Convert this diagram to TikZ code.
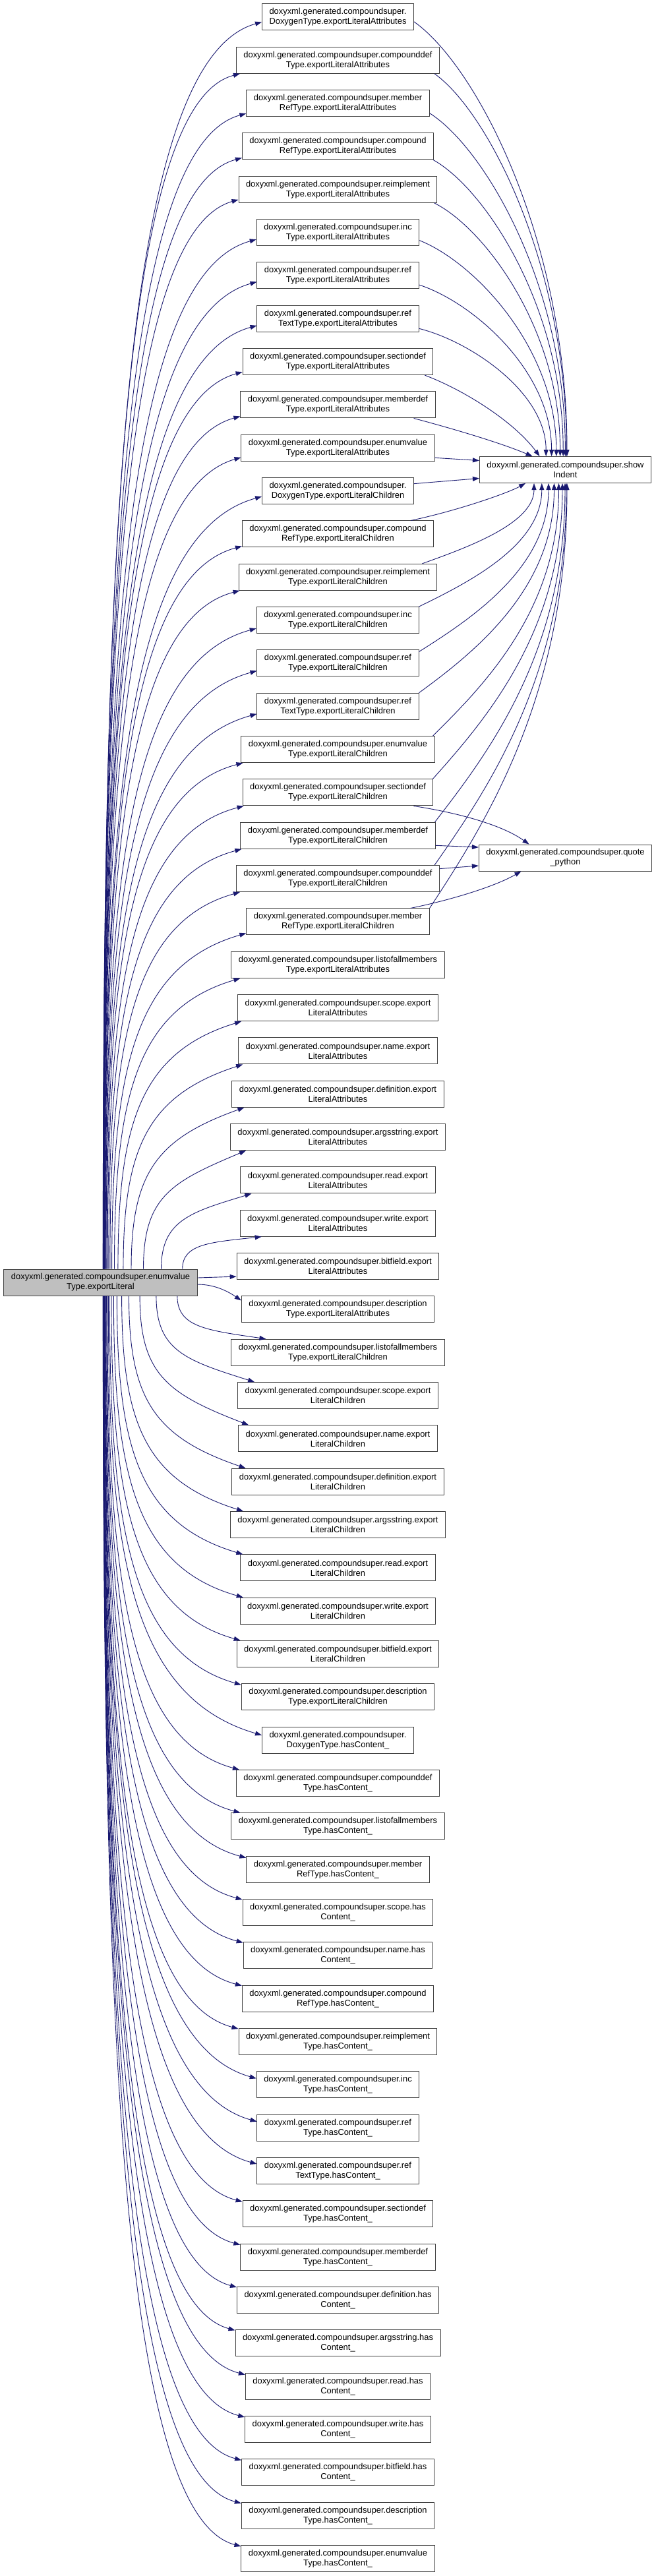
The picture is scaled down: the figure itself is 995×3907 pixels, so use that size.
\documentclass[tikz,border=0pt]{standalone}
\usepackage{fontspec}
\setmainfont{Liberation Sans}
\usetikzlibrary{arrows.meta}
\definecolor{edgeblue}{RGB}{25,25,112}
\definecolor{boxline}{RGB}{64,64,64}
\definecolor{nodegray}{RGB}{191,191,191}
\begin{document}
\begin{tikzpicture}[x=1pt,y=-1pt,
  box/.style={draw=boxline,line width=1pt,fill=white,minimum height=40pt,inner xsep=11pt,inner ysep=0pt,align=center,font=\fontsize{12.9}{15}\selectfont},
  edge/.style={draw=edgeblue,line width=0.9pt,-{Triangle[length=10pt,width=7pt]}}]
\useasboundingbox (0,0) rectangle (995,3907);
\fill[white] (0,0) rectangle (995,3907);
\foreach \t [count=\i] in {
{doxyxml.generated.compoundsuper.\\DoxygenType.exportLiteralAttributes},
{doxyxml.generated.compoundsuper.compounddef\\Type.exportLiteralAttributes},
{doxyxml.generated.compoundsuper.member\\RefType.exportLiteralAttributes},
{doxyxml.generated.compoundsuper.compound\\RefType.exportLiteralAttributes},
{doxyxml.generated.compoundsuper.reimplement\\Type.exportLiteralAttributes},
{doxyxml.generated.compoundsuper.inc\\Type.exportLiteralAttributes},
{doxyxml.generated.compoundsuper.ref\\Type.exportLiteralAttributes},
{doxyxml.generated.compoundsuper.ref\\TextType.exportLiteralAttributes},
{doxyxml.generated.compoundsuper.sectiondef\\Type.exportLiteralAttributes},
{doxyxml.generated.compoundsuper.memberdef\\Type.exportLiteralAttributes},
{doxyxml.generated.compoundsuper.enumvalue\\Type.exportLiteralAttributes},
{doxyxml.generated.compoundsuper.\\DoxygenType.exportLiteralChildren},
{doxyxml.generated.compoundsuper.compound\\RefType.exportLiteralChildren},
{doxyxml.generated.compoundsuper.reimplement\\Type.exportLiteralChildren},
{doxyxml.generated.compoundsuper.inc\\Type.exportLiteralChildren},
{doxyxml.generated.compoundsuper.ref\\Type.exportLiteralChildren},
{doxyxml.generated.compoundsuper.ref\\TextType.exportLiteralChildren},
{doxyxml.generated.compoundsuper.enumvalue\\Type.exportLiteralChildren},
{doxyxml.generated.compoundsuper.sectiondef\\Type.exportLiteralChildren},
{doxyxml.generated.compoundsuper.memberdef\\Type.exportLiteralChildren},
{doxyxml.generated.compoundsuper.compounddef\\Type.exportLiteralChildren},
{doxyxml.generated.compoundsuper.member\\RefType.exportLiteralChildren},
{doxyxml.generated.compoundsuper.listofallmembers\\Type.exportLiteralAttributes},
{doxyxml.generated.compoundsuper.scope.export\\LiteralAttributes},
{doxyxml.generated.compoundsuper.name.export\\LiteralAttributes},
{doxyxml.generated.compoundsuper.definition.export\\LiteralAttributes},
{doxyxml.generated.compoundsuper.argsstring.export\\LiteralAttributes},
{doxyxml.generated.compoundsuper.read.export\\LiteralAttributes},
{doxyxml.generated.compoundsuper.write.export\\LiteralAttributes},
{doxyxml.generated.compoundsuper.bitfield.export\\LiteralAttributes},
{doxyxml.generated.compoundsuper.description\\Type.exportLiteralAttributes},
{doxyxml.generated.compoundsuper.listofallmembers\\Type.exportLiteralChildren},
{doxyxml.generated.compoundsuper.scope.export\\LiteralChildren},
{doxyxml.generated.compoundsuper.name.export\\LiteralChildren},
{doxyxml.generated.compoundsuper.definition.export\\LiteralChildren},
{doxyxml.generated.compoundsuper.argsstring.export\\LiteralChildren},
{doxyxml.generated.compoundsuper.read.export\\LiteralChildren},
{doxyxml.generated.compoundsuper.write.export\\LiteralChildren},
{doxyxml.generated.compoundsuper.bitfield.export\\LiteralChildren},
{doxyxml.generated.compoundsuper.description\\Type.exportLiteralChildren},
{doxyxml.generated.compoundsuper.\\DoxygenType.hasContent\_},
{doxyxml.generated.compoundsuper.compounddef\\Type.hasContent\_},
{doxyxml.generated.compoundsuper.listofallmembers\\Type.hasContent\_},
{doxyxml.generated.compoundsuper.member\\RefType.hasContent\_},
{doxyxml.generated.compoundsuper.scope.has\\Content\_},
{doxyxml.generated.compoundsuper.name.has\\Content\_},
{doxyxml.generated.compoundsuper.compound\\RefType.hasContent\_},
{doxyxml.generated.compoundsuper.reimplement\\Type.hasContent\_},
{doxyxml.generated.compoundsuper.inc\\Type.hasContent\_},
{doxyxml.generated.compoundsuper.ref\\Type.hasContent\_},
{doxyxml.generated.compoundsuper.ref\\TextType.hasContent\_},
{doxyxml.generated.compoundsuper.sectiondef\\Type.hasContent\_},
{doxyxml.generated.compoundsuper.memberdef\\Type.hasContent\_},
{doxyxml.generated.compoundsuper.definition.has\\Content\_},
{doxyxml.generated.compoundsuper.argsstring.has\\Content\_},
{doxyxml.generated.compoundsuper.read.has\\Content\_},
{doxyxml.generated.compoundsuper.write.has\\Content\_},
{doxyxml.generated.compoundsuper.bitfield.has\\Content\_},
{doxyxml.generated.compoundsuper.description\\Type.hasContent\_},
{doxyxml.generated.compoundsuper.enumvalue\\Type.hasContent\_}}
  \node[box] (m\i) at (512.5,{26+(\i-1)*65.33}) {\t};
\node[box,fill=nodegray] (L) at (152.5,1945) {doxyxml.generated.compoundsuper.enumvalue\\Type.exportLiteral};
\node[box] (SI) at (857.5,712.5) {doxyxml.generated.compoundsuper.show\\Indent};
\node[box] (QP) at (857.5,1301) {doxyxml.generated.compoundsuper.quote\\\_python};
% caller -> upper callees (tip offset from the south west corner)
\foreach \i/\ex/\ey in {1/0/13,2/6/0,3/0/5,4/0/3,5/0/5,6/0/10,7/0/11,8/0/10,9/0/5,10/0/3,
  11/0/6,12/0/12,13/0/2,14/2/0,15/0/8,16/0/9,17/0/9,18/3/0,19/2/0,20/2/0,
  21/6/0,22/0/3,23/14/0,24/6/0,25/7/0,26/19/0,27/24/0,28/17/0,29/33/0}{
  \pgfmathsetmacro\yc{26+(\i-1)*65.33}
  \pgfmathsetmacro\dY{1925-\yc}
  \pgfmathsetmacro\xS{155+140/(1+(\dY/180)^2)}
  \pgfmathsetmacro\dxs{\xS-152.5}
  \pgfmathsetmacro\fr{0.1+0.4/(1+(\dY/180)^2)}
  \pgfmathsetmacro\cAy{1925-0.55*\dY}
  \pgfmathsetmacro\cBx{\xS+\fr*(370-\xS)}
  \pgfmathsetmacro\cBy{\yc+8+min(0.3*\dY,60)}
  \draw[edge] ([xshift=\dxs pt]L.north) .. controls (\xS,\cAy) and (\cBx,\cBy) .. ([xshift=\ex pt,yshift=\ey pt]m\i.south west);
}
% caller -> lower callees (tip offset from the north west corner)
\foreach \i/\ex/\ey in {32/53/0,33/26/0,34/16/0,35/21/0,36/20/0,37/4/0,38/5/0,39/6/0,40/0/2,
  41/0/13,42/5/0,43/14/0,44/0/3,45/0/1,46/0/1,47/0/1,48/0/1,49/0/11,50/0/11,51/0/10,
  52/0/2,53/0/2,54/0/1,55/0/1,56/0/3,57/0/2,58/0/2,59/0/2,60/0/2}{
  \pgfmathsetmacro\yc{26+(\i-1)*65.33}
  \pgfmathsetmacro\dY{\yc-1965}
  \pgfmathsetmacro\xS{155+140/(1+(\dY/180)^2)}
  \pgfmathsetmacro\dxs{\xS-152.5}
  \pgfmathsetmacro\fr{0.1+0.4/(1+(\dY/180)^2)}
  \pgfmathsetmacro\cAy{1965+0.55*\dY}
  \pgfmathsetmacro\cBx{\xS+\fr*(370-\xS)}
  \pgfmathsetmacro\cBy{\yc-8-min(0.3*\dY,60)}
  \draw[edge] ([xshift=\dxs pt]L.south) .. controls (\xS,\cAy) and (\cBx,\cBy) .. ([xshift=\ex pt,yshift=-\ey pt]m\i.north west);
}
\draw[edge] ([yshift=7pt]L.east) -- ([yshift=5pt]m30.south west);
\draw[edge] ([yshift=-3pt]L.east) .. controls (325,1948) and (345,1958) .. ([yshift=-7pt]m31.north west);
% callees -> showIndent
\draw[edge] ([yshift=-7pt]m1.east) .. controls (722,98.9) and (860,362.5) .. ([xshift=2.5pt]SI.north);
\draw[edge] ([xshift=-8pt]m2.south east) .. controls (739.8,169.1) and (859.4,401.5) .. ([xshift=1.9pt]SI.north);
\draw[edge] ([yshift=-15pt]m3.east) .. controls (734.2,224) and (857.4,432) .. ([xshift=-0.1pt]SI.north);
\draw[edge] ([xshift=-1pt]m4.south east) .. controls (736.5,287) and (854.2,467) .. ([xshift=-3.3pt]SI.north);
\draw[edge] ([xshift=-5pt]m5.south east) .. controls (734.6,345.5) and (849.6,499.5) .. ([xshift=-7.9pt]SI.north);
\draw[edge] ([yshift=-12pt]m6.east) .. controls (719.7,397.7) and (843.8,528.5) .. ([xshift=-13.7pt]SI.north);
\draw[edge] ([yshift=-14pt]m7.east) .. controls (716.2,458) and (836.6,562) .. ([xshift=-20.9pt]SI.north);
\draw[edge] ([yshift=-15pt]m8.east) .. controls (712.9,517.4) and (828.2,595) .. ([xshift=-29.3pt]SI.north);
\draw[edge] ([xshift=-13pt]m9.south east) .. controls (705,592) and (780,640) .. ([xshift=-39pt]SI.north);
\draw[edge] ([xshift=-33pt]m10.south east) .. controls (690,651) and (760,672) .. ([xshift=-50pt]SI.north);
\draw[edge] ([yshift=-15pt]m11.east) -- ([yshift=14pt]SI.west);
\draw[edge] ([yshift=11pt]m12.east) -- ([yshift=-13pt]SI.west);
\draw[edge] ([xshift=-35pt]m13.north east) .. controls (692,775) and (770,748) .. ([xshift=-60.5pt]SI.south);
\draw[edge] ([xshift=-23pt]m14.north east) .. controls (708,830.6) and (810,794) .. ([xshift=-47.5pt]SI.south);
\draw[edge] ([xshift=-1pt]m15.north east) .. controls (710.9,883.4) and (821.8,827) .. ([xshift=-35.7pt]SI.south);
\draw[edge] ([yshift=-3pt]m16.north east) .. controls (714.4,938.6) and (832,861.5) .. ([xshift=-25.5pt]SI.south);
\draw[edge] (m17.north east) .. controls (717.8,990.6) and (840.5,894) .. ([xshift=-17pt]SI.south);
\draw[edge] ([xshift=-3pt]m18.north east) .. controls (733.2,1040.2) and (847.5,925) .. ([xshift=-10pt]SI.south);
\draw[edge] ([xshift=-1pt]m19.north east) .. controls (736,1092.2) and (853,957.5) .. ([xshift=-4.5pt]SI.south);
\draw[edge] ([xshift=-1pt]m20.north east) .. controls (738.8,1144.2) and (857,990) .. ([xshift=-0.5pt]SI.south);
\draw[edge] ([xshift=-8pt]m21.north east) .. controls (739.6,1197) and (859,1023) .. ([xshift=1.5pt]SI.south);
\draw[edge] (m22.north east) .. controls (735.8,1249) and (860,1055.5) .. ([xshift=2.5pt]SI.south);
% callees -> quote_python
\draw[edge] ([xshift=-30pt]m19.south east) .. controls (690,1232) and (760,1250) .. ([xshift=-55pt]QP.north);
\draw[edge] ([yshift=-15pt]m20.east) -- ([yshift=16pt]QP.west);
\draw[edge] ([yshift=15pt]m21.east) -- ([yshift=-12pt]QP.west);
\draw[edge] ([xshift=-29pt]m22.north east) .. controls (680,1366) and (750,1345) .. ([xshift=-67pt]QP.south);
\end{tikzpicture}
\end{document}
